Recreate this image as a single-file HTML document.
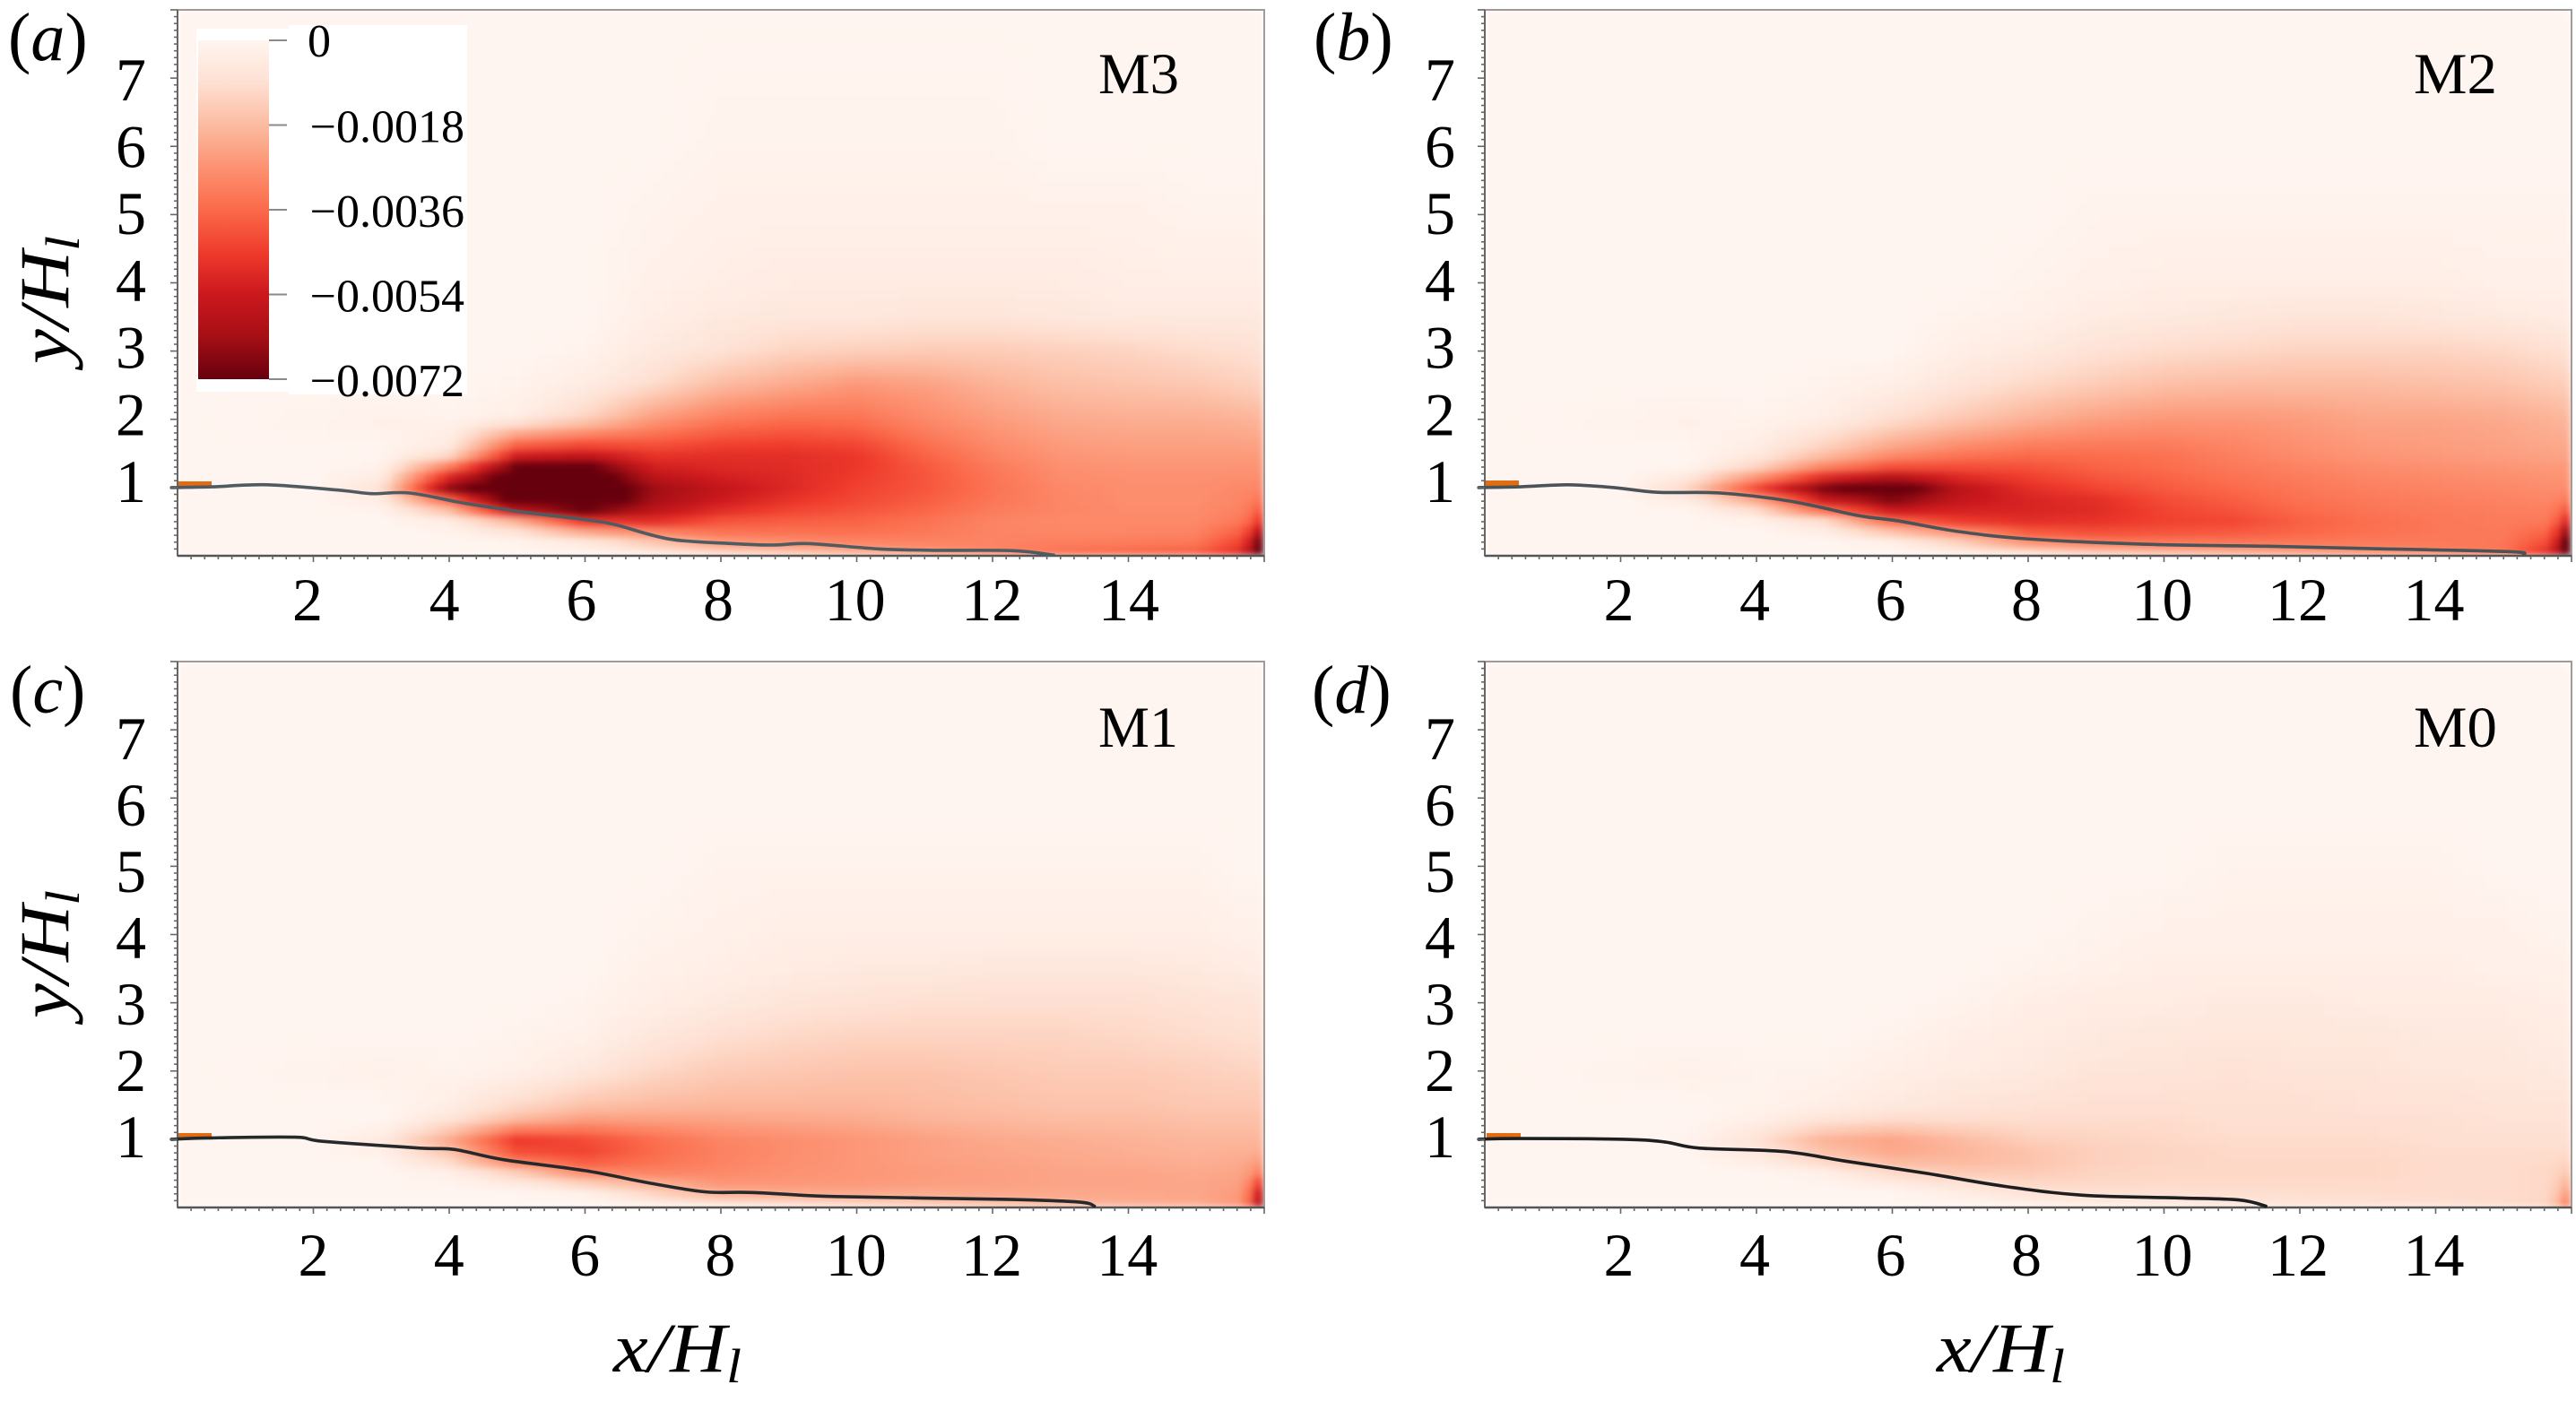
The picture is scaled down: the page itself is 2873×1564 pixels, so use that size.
<!DOCTYPE html>
<html lang="en">
<head>
<meta charset="utf-8">
<title>Four-panel contour field M3, M2, M1, M0</title>
<style>
html,body{margin:0;padding:0;background:#fff;}
svg{display:block;font-family:"Liberation Serif",serif;}
text{fill:#000;}
</style>
</head>
<body>
<svg id="figure" xmlns="http://www.w3.org/2000/svg" width="2873" height="1564" viewBox="0 0 2873 1564">
  <defs>
    <filter id="soften" x="0" y="0" width="1" height="1" color-interpolation-filters="sRGB">
      <feGaussianBlur stdDeviation="4" edgeMode="duplicate"/>
    </filter>
    <linearGradient id="cbar-gradient" x1="0" y1="0" x2="0" y2="1"></linearGradient>
  </defs>
  <g id="panels"></g>

  <g>
    <rect x="219" y="32" width="103" height="405" fill="#fff"/>
    <rect x="322" y="28" width="199" height="412" fill="#fff"/>
    <rect x="221" y="45" width="79" height="378" fill="url(#cbar-gradient)"/>
    <g id="cbar-ticks"></g>
  </g>

  <g font-size="76">
    <text x="9" y="67">(<tspan font-style="italic">a</tspan>)</text>
    <text x="1465" y="67">(<tspan font-style="italic">b</tspan>)</text>
    <text x="11" y="795">(<tspan font-style="italic">c</tspan>)</text>
    <text x="1463" y="795">(<tspan font-style="italic">d</tspan>)</text>
  </g>

  <g font-size="65">
    <text x="1225" y="104" textLength="90" lengthAdjust="spacingAndGlyphs">M3</text>
    <text x="2692" y="104" textLength="93" lengthAdjust="spacingAndGlyphs">M2</text>
    <text x="1225" y="833" textLength="89" lengthAdjust="spacingAndGlyphs">M1</text>
    <text x="2692" y="833" textLength="93" lengthAdjust="spacingAndGlyphs">M0</text>
  </g>

  <g font-size="78" font-style="italic">
    <text transform="translate(76,406) rotate(-90)" textLength="143" lengthAdjust="spacingAndGlyphs">y/H<tspan font-size="54" dy="12">l</tspan></text>
    <text transform="translate(76,1136) rotate(-90)" textLength="143" lengthAdjust="spacingAndGlyphs">y/H<tspan font-size="54" dy="12">l</tspan></text>
    <text x="684" y="1530" textLength="143" lengthAdjust="spacingAndGlyphs">x/H<tspan font-size="54" dy="12">l</tspan></text>
    <text x="2160" y="1530" textLength="143" lengthAdjust="spacingAndGlyphs">x/H<tspan font-size="54" dy="12">l</tspan></text>
  </g>
</svg>

<script>
// ---- axis data ----
const xCols = [0,2,3,4,5,6,7,8,9,10,11,12,13,14,15,15.7,16];
const yRows = [8,6,5,4,3.5,3,2.5,2,1.5,1.25,1,0.75,0.5,0.25,0];
const xTickLabels = [2,4,6,8,10,12,14];
const yTickLabels = [1,2,3,4,5,6,7];
const colorbarValues = [0,-0.0018,-0.0036,-0.0054,-0.0072];
const colorbarLabels = ['0','\u22120.0018','\u22120.0036','\u22120.0054','\u22120.0072'];
const redsRamp = ['#fff5f0','#fee0d2','#fcbba1','#fc9272','#fb6a4a','#ef3b2c','#cb181d','#a50f15','#67000d'];

// ---- field magnitudes, in units of 1e-4 (72 = -0.0072); one row per yRows entry ----
const fieldM3 = [
[0,0,0,0,0,0,0,0,0,0,0,0,0,0,0,0,0],
[0,0,0,0,0,0,0,1,1,1,1,1,0,0,0,0,0],
[0,0,0,0,0,0,1,2,2,2,2,2,2,2,1,1,1],
[0,0,0,0,0,0,2,3,4,4,4,4,4,3,3,3,3],
[0,0,0,0,0,0,3,5,6,6,7,7,6,5,5,5,5],
[0,0,0,0,0,1,5,8,12,13,14,14,13,12,10,9,8],
[0,0,0,0,1,4,10,18,22,26,24,20,17,16,15,13,12],
[0,1,2,1,3,12,25,32,35,34,29,25,22,21,21,20,19],
[0,0,0,6,48,52,46,48,48,46,37,30,26,25,25,25,25],
[0,0,2,38,78,80,54,50,49,46,40,33,28,27,27,27,27],
[0,0,8,68,85,85,64,56,50,44,40,34,29,28,28,29,30],
[0,0,2,24,78,85,62,53,46,42,38,33,30,28,28,30,36],
[0,0,0,3,18,45,48,40,38,37,34,30,29,29,29,33,50],
[0,0,0,0,1,6,18,30,32,33,32,30,30,30,31,42,75],
[0,0,0,0,0,1,3,8,12,18,24,30,36,38,40,52,90]
];
const fieldM2 = [
[0,0,0,0,0,0,0,0,0,0,0,0,0,0,0,0,0],
[0,0,0,0,0,0,0,0,0,0,0,0,0,0,0,0,0],
[0,0,0,0,0,0,0,0,1,1,1,1,1,1,1,1,1],
[0,0,0,0,0,0,0,1,2,3,3,3,3,3,2,2,2],
[0,0,0,0,0,0,1,2,4,5,6,7,7,6,5,4,4],
[0,0,0,0,0,0,3,5,8,10,11,12,12,12,11,9,8],
[0,0,0,0,1,3,7,11,14,17,18,18,18,17,16,14,13],
[0,1,2,1,3,9,15,20,24,26,26,25,23,23,22,20,19],
[0,0,0,4,15,26,32,35,35,34,31,28,26,25,24,23,23],
[0,0,1,14,34,45,44,42,38,36,33,31,29,28,27,26,26],
[0,0,12,44,70,80,58,48,43,39,36,33,31,30,29,28,28],
[0,0,1,14,48,64,55,52,50,43,39,35,33,32,31,30,35],
[0,0,0,1,8,35,45,48,47,44,43,38,35,33,32,33,55],
[0,0,0,0,0,3,16,33,38,38,37,36,34,33,33,40,85],
[0,0,0,0,0,0,1,4,10,14,18,22,26,30,34,52,80]
];
const fieldM1 = [
[0,0,0,0,0,0,0,0,0,0,0,0,0,0,0,0,0],
[0,0,0,0,0,0,0,0,0,0,0,0,0,0,0,0,0],
[0,0,0,0,0,0,0,1,1,1,1,1,1,1,1,0,0],
[0,0,0,0,0,0,1,2,3,3,3,3,3,3,3,2,2],
[0,0,0,0,0,0,2,3,4,5,5,6,6,6,5,4,4],
[0,0,0,0,0,1,3,5,7,8,9,9,9,9,8,7,7],
[0,0,0,0,1,2,6,9,11,12,12,12,12,11,10,9,9],
[0,1,2,1,2,6,11,14,15,16,16,15,14,14,13,12,12],
[0,0,0,3,10,16,18,19,19,19,18,17,16,16,15,15,15],
[0,0,0,8,20,26,25,24,23,22,20,19,18,18,17,17,17],
[0,0,5,22,46,42,35,30,28,26,24,22,21,20,19,19,19],
[0,0,1,14,40,44,36,31,28,26,24,23,22,21,20,21,22],
[0,0,0,2,12,28,30,29,27,26,25,24,23,23,22,23,34],
[0,0,0,0,0,2,14,24,25,25,24,24,23,23,23,25,60],
[0,0,0,0,0,0,1,3,6,9,12,15,18,20,21,27,72]
];
const fieldM0 = [
[0,0,0,0,0,0,0,0,0,0,0,0,0,0,0,0,0],
[0,0,0,0,0,0,0,0,0,0,0,0,0,0,0,0,0],
[0,0,0,0,0,0,0,0,0,0,1,1,1,1,0,0,0],
[0,0,0,0,0,0,0,0,1,2,2,2,2,2,2,1,1],
[0,0,0,0,0,0,0,1,2,3,3,3,3,3,2,2,2],
[0,0,0,0,0,0,1,3,4,4,5,5,4,4,4,3,3],
[0,0,0,0,0,1,3,4,5,6,6,6,6,5,5,4,4],
[0,1,2,1,1,3,4,5,7,7,8,7,7,6,6,5,5],
[0,0,0,1,3,5,7,8,9,9,9,9,8,8,7,7,7],
[0,0,0,3,8,11,10,10,10,10,9,9,9,9,8,8,8],
[0,0,1,8,20,23,18,13,12,11,10,10,10,9,9,9,9],
[0,0,0,5,15,22,20,17,13,12,11,11,11,10,10,10,11],
[0,0,0,0,2,10,14,14,12,11,11,11,11,10,10,11,16],
[0,0,0,0,0,0,4,9,10,10,10,10,10,10,10,11,26],
[0,0,0,0,0,0,0,1,3,4,5,7,8,9,10,12,40]
];

// ---- zero-contour curves ----
const curveM3X = [-0.09,0.5,1.33,2.4,2.86,3.42,4.23,5.1,6.0,6.43,7.24,8.14,8.75,9.3,10.34,11.2,12.3,12.9];
const curveM3Y = [1.0,1.01,1.04,0.96,0.91,0.92,0.77,0.64,0.53,0.46,0.245,0.18,0.157,0.178,0.1,0.08,0.075,0.01];
const curveM2X = [-0.09,0.5,1.22,1.9,2.55,3.47,4.5,5.5,6.1,6.94,7.96,9.7,11.5,13.3,15.1,15.3];
const curveM2Y = [1.0,1.01,1.04,1.0,0.93,0.92,0.8,0.59,0.51,0.36,0.25,0.17,0.14,0.1,0.06,0.02];
const curveM1X = [-0.09,0.5,1.73,2.14,3.57,4.08,4.8,6.0,6.94,7.76,8.47,9.7,12.2,13.27,13.5];
const curveM1Y = [1.0,1.02,1.03,0.97,0.87,0.85,0.7,0.54,0.36,0.23,0.22,0.16,0.12,0.08,0.02];
const curveM0X = [-0.09,0.5,2.04,2.65,3.16,4.4,5.3,6.5,7.65,8.8,10.2,11.1,11.5];
const curveM0Y = [1.0,1.01,1.0,0.96,0.87,0.82,0.68,0.5,0.31,0.18,0.14,0.11,0.02];

// ---- layout ----
const NS = 'http://www.w3.org/2000/svg';
const XMAX = 16, YMAX = 8, VMAX = 72, PW = 1212, PH = 609, CELL = 12;
const panelDefs = [
  {key:'m3', left:198,  top:11,  field:fieldM3, cx:curveM3X, cy:curveM3Y, line:'#4f5b60', xDx:-6.5, xSlope:0.58, xBase:692,  yCx:146,  yOne:560,  yStep:74.7, barY:537},
  {key:'m2', left:1656, top:11,  field:fieldM2, cx:curveM2X, cy:curveM2Y, line:'#4a5358', xDx:-2,   xSlope:0,    xBase:692,  yCx:1606, yOne:560,  yStep:74.7, barY:536},
  {key:'m1', left:198,  top:738, field:fieldM1, cx:curveM1X, cy:curveM1Y, line:'#26292b', xDx:0,    xSlope:-0.1, xBase:1423, yCx:146,  yOne:1291, yStep:74,   barY:1264},
  {key:'m0', left:1656, top:738, field:fieldM0, cx:curveM0X, cy:curveM0Y, line:'#1c1e20', xDx:-2,   xSlope:0,    xBase:1423, yCx:1606, yOne:1291, yStep:74,   barY:1264}
];

function hexToRgb(h){return [parseInt(h.slice(1,3),16),parseInt(h.slice(3,5),16),parseInt(h.slice(5,7),16)];}
const rampRgb = redsRamp.map(hexToRgb);
function colorFor(v){
  const t = Math.max(0,Math.min(1,v/VMAX))*(rampRgb.length-1);
  const i = Math.min(rampRgb.length-2,Math.floor(t)), f = t-i;
  const a = rampRgb[i], b = rampRgb[i+1];
  return 'rgb('+Math.round(a[0]+(b[0]-a[0])*f)+','+Math.round(a[1]+(b[1]-a[1])*f)+','+Math.round(a[2]+(b[2]-a[2])*f)+')';
}
function sample(field,x,y){
  let i = 0; while(i<xCols.length-2 && x>xCols[i+1]) i++;
  let j = 0; while(j<yRows.length-2 && y<yRows[j+1]) j++;
  const fx = (x-xCols[i])/(xCols[i+1]-xCols[i]);
  const fy = (yRows[j]-y)/(yRows[j]-yRows[j+1]);
  const top = field[j][i]+(field[j][i+1]-field[j][i])*fx;
  const bot = field[j+1][i]+(field[j+1][i+1]-field[j+1][i])*fx;
  return top+(bot-top)*fy;
}
function make(tag,attrs,parent){
  const el = document.createElementNS(NS,tag);
  for(const k in attrs) el.setAttribute(k,attrs[k]);
  if(parent) parent.appendChild(el);
  return el;
}
// Catmull-Rom through the scaled points so the contour reads as a smooth line
function smoothPath(px,py){
  let d = 'M'+px[0].toFixed(1)+' '+py[0].toFixed(1);
  for(let i=0;i<px.length-1;i++){
    const a = Math.max(0,i-1), b = i+1, c = Math.min(px.length-1,i+2);
    const c1x = px[i]+(px[b]-px[a])/6, c1y = py[i]+(py[b]-py[a])/6;
    const c2x = px[b]-(px[c]-px[i])/6, c2y = py[b]-(py[c]-py[i])/6;
    d += ' C'+c1x.toFixed(1)+' '+c1y.toFixed(1)+' '+c2x.toFixed(1)+' '+c2y.toFixed(1)+' '+px[b].toFixed(1)+' '+py[b].toFixed(1);
  }
  return d;
}

const root = document.getElementById('panels');

panelDefs.forEach(function(p){
  const sx = function(v){return p.left+v/XMAX*PW;};
  const sy = function(v){return p.top+PH-v/YMAX*PH;};

  const g = make('g',{},root);
  
  

  // clip
  const cp = make('clipPath',{id:'clip-'+p.key},g);
  make('rect',{x:p.left,y:p.top,width:PW,height:PH},cp);

  const clipG = make('g',{'clip-path':'url(#clip-'+p.key+')'},g);
  
  

  // heatmap
  const heat = make('g',{filter:'url(#soften)','shape-rendering':'crispEdges'},clipG);
  
  
  const frag = document.createDocumentFragment();
  for(let py=0;py<PH;py+=CELL){
    for(let px=0;px<PW;px+=CELL){
      const dataX = (px+CELL/2)/PW*XMAX;
      const dataY = YMAX-(py+CELL/2)/PH*YMAX;
      const cell = make('rect',{
        x:p.left+px, y:p.top+py,
        width:Math.min(CELL,PW-px), height:Math.min(CELL,PH-py),
        fill:colorFor(sample(p.field,dataX,dataY))
      });
      
      
      frag.appendChild(cell);
    }
  }
  heat.appendChild(frag);

  // orange step marker
  const bar = make('rect',{x:p.left+(p.key==='m0'?2:0),y:p.barY,width:38,height:6.5,fill:'#e26c12'},clipG);
  
  

  // frame
  const frame = make('rect',{x:p.left,y:p.top,width:PW,height:PH,fill:'none',stroke:'#a09a98','stroke-width':2},g);
  
  
  const leftAxis = make('line',{x1:p.left,x2:p.left,y1:p.top,y2:p.top+PH,stroke:'#666','stroke-width':2},g);
  
  
  const botAxis = make('line',{x1:p.left,x2:p.left+PW,y1:p.top+PH,y2:p.top+PH,stroke:'#555','stroke-width':2.5},g);
  
  

  // contour curve, drawn from the arrays through the axis functions
  const curve = make('path',{d:smoothPath(p.cx.map(sx),p.cy.map(sy)),fill:'none',stroke:p.line,'stroke-width':3.6,'stroke-linejoin':'round','stroke-linecap':'round'},g);
  
  

  // minor + major ticks
  const ticks = make('g',{stroke:'#666','stroke-width':1.6},g);
  
  
  for(let k=1;k<=80;k++){
    const major = k%10===0;
    const t = make('line',{x1:p.left,x2:p.left-(major?8:4),y1:sy(k/10),y2:sy(k/10)},ticks);
    
    
  }
  for(let k=1;k<=80;k++){
    const major = k%10===0;
    const t = make('line',{x1:sx(k/5),x2:sx(k/5),y1:p.top+PH,y2:p.top+PH+(major?7:4)},ticks);
    
    
  }

  // tick labels
  xTickLabels.forEach(function(v){
    const t = make('text',{x:sx(v)+p.xDx+p.xSlope*(v-2),y:p.xBase,'font-size':68,'text-anchor':'middle'},g);
    
    
    t.textContent = String(v);
  });
  yTickLabels.forEach(function(v){
    const t = make('text',{x:p.yCx,y:p.yOne-p.yStep*(v-1),'font-size':68,'text-anchor':'middle'},g);
    
    
    t.textContent = String(v);
  });
});

// ---- colorbar ----
const grad = document.getElementById('cbar-gradient');
redsRamp.forEach(function(c,i){
  make('stop',{offset:(i/(redsRamp.length-1)*100)+'%','stop-color':c},grad);
});
const cbarTicks = document.getElementById('cbar-ticks');
const cbTop = 45, cbH = 378, cbMin = -0.0072;
colorbarValues.forEach(function(v,i){
  const y = cbTop+(v/cbMin)*cbH;
  const tick = make('line',{x1:300,x2:320,y1:y,y2:y,stroke:'#8a8a8a','stroke-width':2},cbarTicks);
  
  
  const label = make('text',{x:i===0?343:518,y:y+(i===0?18:19),'font-size':52,'text-anchor':i===0?'start':'end'},cbarTicks);
  
  
  label.textContent = colorbarLabels[i];
});
</script>
</body>
</html>
